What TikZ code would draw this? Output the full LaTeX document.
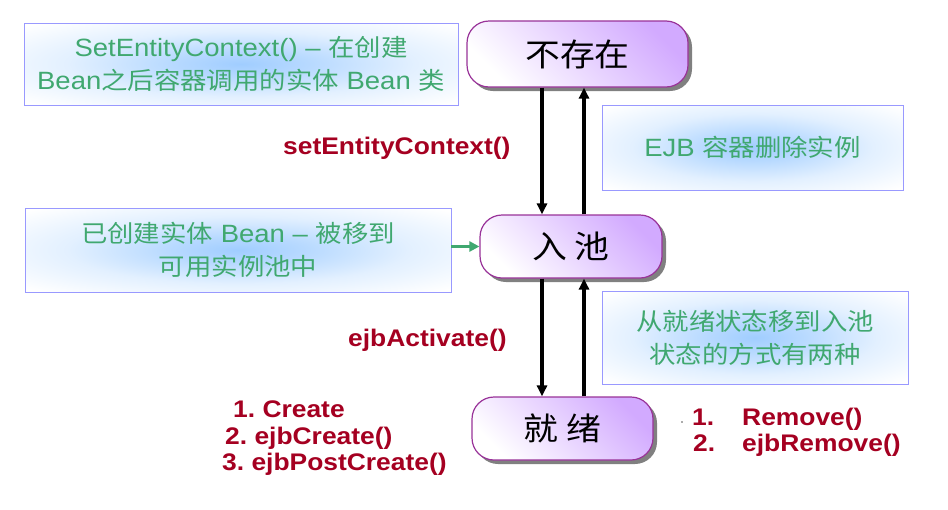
\documentclass[tikz,border=0pt]{standalone}
\usepackage{fontspec}
\setmainfont[FakeStretch=1.1]{Liberation Sans}
\newfontfamily\cjk[FakeStretch=1.1,Scale=0.96]{Noto Sans CJK SC}
\usetikzlibrary{arrows.meta,shadows}
\definecolor{redlab}{RGB}{165,0,33}
\definecolor{greentxt}{RGB}{64,168,112}
\definecolor{notebd}{RGB}{153,153,255}
\definecolor{glow}{RGB}{160,205,255}
\definecolor{statebd}{RGB}{153,51,153}
\definecolor{lav}{RGB}{210,170,255}
\pgfdeclareradialshading{softglow}{\pgfpoint{0bp}{0bp}}{color(0bp)=(glow); color(8bp)=(glow!75!white); color(20bp)=(glow!30!white); color(34bp)=(white); color(50bp)=(white)}
\frenchspacing
\begin{document}
\begin{tikzpicture}[x=1pt,y=-1pt,
 state/.style={rounded corners=22pt, draw=statebd, line width=1.2pt,
   left color=white, right color=lav, shading angle=135,
   drop shadow={shadow xshift=4pt, shadow yshift=-4pt, fill=gray, opacity=1},
   font=\cjk\fontsize{33}{36}\selectfont, inner sep=0pt},
 note/.style={draw=notebd, line width=0.8pt, shading=softglow,
   inner sep=0pt, font=\fontsize{25}{33}\selectfont, text=greentxt, align=center},
 lab/.style={text=redlab, font=\bfseries\fontsize{24}{27}\selectfont, inner sep=0pt, anchor=base west},
 flow/.style={line width=3.2pt, -{Triangle[length=11pt,width=10pt]}},
]
\useasboundingbox[fill=white] (0,0) rectangle (948,509);

\node[state, minimum width=221pt, minimum height=66pt] (s1) at (577.5,54) {不存在};
\node[state, minimum width=182pt, minimum height=63pt] (s2) at (571,246.5) {入 池};
\node[state, minimum width=181pt, minimum height=63pt] (s3) at (562.5,428.5) {就 绪};

\node[note, minimum width=434pt, minimum height=82pt] (n1) at (241,64)
  {SetEntityContext() – {\cjk 在创建}\\Bean{\cjk 之后容器调用的实体} Bean {\cjk 类}};
\node[note, minimum width=301pt, minimum height=85pt] (n2) at (752.5,147.5)
  {EJB {\cjk 容器删除实例}};
\node[note, minimum width=426pt, minimum height=84pt] (n3) at (238,250)
  {{\cjk 已创建实体} Bean – {\cjk 被移到}\\{\cjk 可用实例池中}};
\node[note, minimum width=306pt, minimum height=93pt] (n4) at (755,337.5)
  {{\cjk 从就绪状态移到入池}\\{\cjk 状态的方式有两种}};

\coordinate (dx) at (542,0);
\coordinate (ux) at (584,0);
\draw[flow] (s1.south -| dx) -- (s2.north -| dx);
\draw[flow] (s2.north -| ux) -- (s1.south -| ux);
\draw[flow] (s2.south -| dx) -- (s3.north -| dx);
\draw[flow] (s3.north -| ux) -- (s2.south -| ux);
\draw[line width=2.8pt, greentxt, -{Triangle[length=10pt,width=10pt]}] (n3.east |- s2.west) -- (s2.west);

\node[lab] (l1) at (283,154) {setEntityContext()};
\node[lab] (l2) at (348,346) {ejbActivate()};
\node[lab] (l3) at (233,417) {1. Create};
\node[lab] (l4) at (225,444) {2. ejbCreate()};
\node[lab] (l5) at (222,470) {3. ejbPostCreate()};
\node[lab] (l6) at (692,425) {1.};
\node[lab] (l7) at (742,425) {Remove()};
\node[lab] (l8) at (693,451) {2.};
\node[lab] (l9) at (742,451) {ejbRemove()};
\fill[gray!70!black] (682,422) circle (0.9pt);
\end{tikzpicture}
\end{document}
